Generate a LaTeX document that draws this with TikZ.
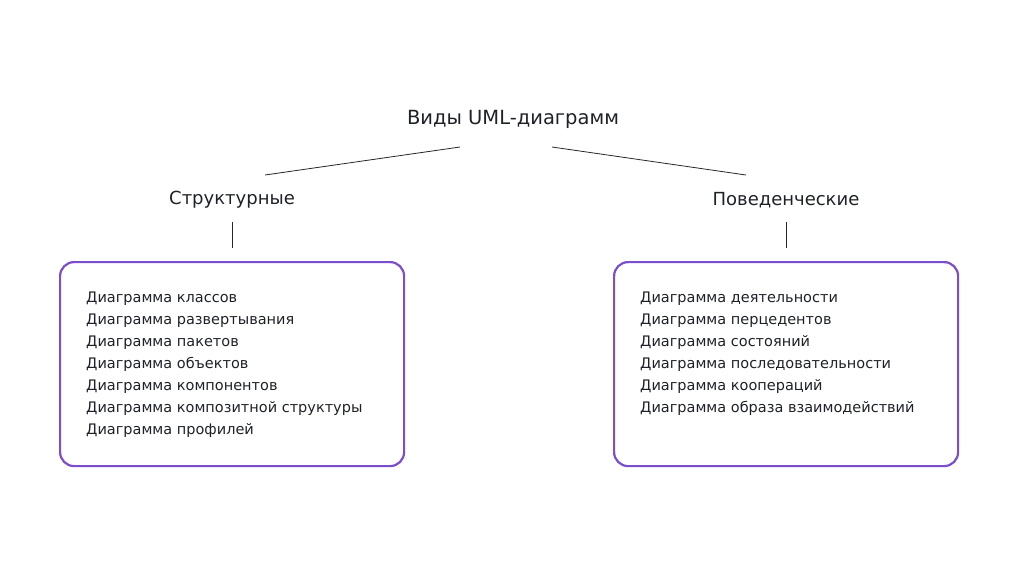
\documentclass[tikz,border=0pt]{standalone}
\usepackage{fontspec}
\setmainfont{DejaVu Sans}
\definecolor{txt}{HTML}{1E2228}
\definecolor{frame}{HTML}{7B4FC9}
\begin{document}
\begin{tikzpicture}[x=1pt,y=-1pt,
  title/.style={font=\fontsize{19.5}{22}\selectfont, text=txt, inner sep=0pt},
  head/.style={font=\fontsize{18}{20}\selectfont, text=txt, inner sep=0pt},
  listtext/.style={font=\fontsize{14.5}{22}\selectfont, text=txt, align=left, anchor=north west, inner sep=0pt},
  panel/.style={draw=frame, line width=2.2pt, rounded corners=14pt},
  link/.style={draw=black!85, line width=0.8pt}]
\useasboundingbox (0,0) rectangle (1024,574);
\node[title] (root) at (513,119) {Виды UML-диаграмм};
\node[head] (s) at (232,200) {Структурные};
\node[head] (b) at (786,200) {Поведенческие};
\coordinate (l1) at (460,147); \coordinate (l2) at (265,175);
\coordinate (r1) at (552,147); \coordinate (r2) at (746,175);
\draw[link] (l1) -- (l2);
\draw[link] (r1) -- (r2);
\node[panel, minimum width=344pt, minimum height=204pt, anchor=north west] (sp) at (59,261) {};
\node[panel, minimum width=344pt, minimum height=204pt, anchor=north west] (bp) at (613,261) {};
\coordinate (sv1) at (232,222); \coordinate (sv2) at (232,248);
\coordinate (bv1) at (786,222); \coordinate (bv2) at (786,248);
\draw[link] (sv1) -- (sv2);
\draw[link] (bv1) -- (bv2);
\node[listtext] (sl) at (86,292) {Диаграмма классов\\Диаграмма развертывания\\Диаграмма пакетов\\Диаграмма объектов\\Диаграмма компонентов\\Диаграмма композитной структуры\\Диаграмма профилей};
\node[listtext] (bl) at (640,292) {Диаграмма деятельности\\Диаграмма перцедентов\\Диаграмма состояний\\Диаграмма последовательности\\Диаграмма коопераций\\Диаграмма образа взаимодействий};
\end{tikzpicture}
\end{document}
